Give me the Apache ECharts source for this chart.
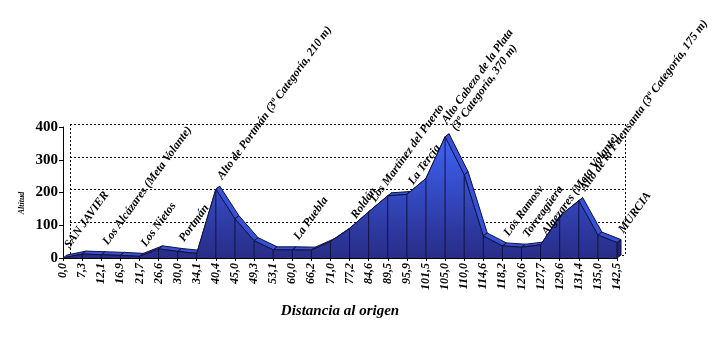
<!DOCTYPE html>
<html>
<head>
<meta charset="utf-8">
<script src="https://cdn.jsdelivr.net/npm/echarts@6/dist/echarts.min.js"></script>
<style>
  html, body { margin: 0; padding: 0; background: #fff; }
  #chart { width: 720px; height: 342px; }
</style>
</head>
<body>
<div id="chart"></div>
<script>
// Stage profile: distance from start (km) and altitude (m)
const distances = ['0,0', '7,3', '12,1', '16,9', '21,7', '26,6', '30,0', '34,1', '40,4', '45,0',
  '49,3', '53,1', '60,0', '66,2', '71,0', '77,2', '84,6', '89,5', '95,9', '101,5',
  '105,0', '110,0', '114,6', '118,2', '120,6', '127,7', '129,6', '131,4', '135,0', '142,5'];
const altitudes = [0, 12, 10, 8, 5, 28, 20, 14, 210, 120,
  53, 25, 25, 24, 50, 90, 141, 190, 194, 243,
  370, 254, 67, 37, 33, 40, 128, 175, 70, 47];
const placeNames = ['SAN JAVIER', '', 'Los Alcázares (Meta Volante)', '', 'Los Nietos', '', 'Portmán', '',
  'Alto de Portmán (3ª Categoría, 210 m)', '', '', '', 'La Puebla', '', '', 'Roldán',
  'Los Martínez del Puerto', '', 'La Tercia', '', 'Alto Cabezo de la Plata\n(3ª Categoría, 370 m)', '', '',
  'Los Ramosv', 'Torreagüera', 'Algezares (Meta Volante)', '', 'Alto de la Fuensanta (3ª Categoría, 175 m)', '', 'MURCIA'];
const altitudeTicks = [0, 100, 200, 300, 400];

const SERIF = '"Liberation Serif", "Times New Roman", serif';
const DEPTH_X = 4, DEPTH_Y = 3;     // ribbon depth
const WALL_X = 7, WALL_Y = 3;       // back wall offset

const chart = echarts.init(document.getElementById('chart'), null, { renderer: 'canvas' });

const gridLeft = 63, gridTop = 127, gridW = 554, gridH = 131;

const ribbonData = altitudes.map((v, i) => [i, v, i < altitudes.length - 1 ? altitudes[i + 1] : v]);
const labelData = placeNames.map((n, i) => [i, altitudes[i], n]).filter(d => d[2] !== '');

chart.setOption({
  animation: false,
  backgroundColor: '#fff',
  grid: [
    { left: gridLeft, top: gridTop, width: gridW, height: gridH },
    { left: gridLeft + WALL_X, top: gridTop - WALL_Y, width: gridW + 1, height: gridH }
  ],
  xAxis: [
    {
      type: 'category', gridIndex: 0, data: distances, boundaryGap: false,
      name: 'Distancia al origen', nameLocation: 'middle', nameGap: 46,
      nameTextStyle: { fontFamily: SERIF, fontStyle: 'italic', fontWeight: 'bold', fontSize: 15, color: '#000' },
      axisLine: { lineStyle: { color: '#000', width: 1 } },
      axisTick: { show: true, length: 3, lineStyle: { color: '#000' } },
      axisLabel: { rotate: 90, margin: 5, fontFamily: SERIF, fontStyle: 'italic', fontWeight: 'bold', fontSize: 12, color: '#000', interval: 0 },
      splitLine: { show: false }
    },
    {
      type: 'value', gridIndex: 1, min: 0, max: 1, interval: 1,
      axisLine: { show: false }, axisTick: { show: false }, axisLabel: { show: false },
      splitLine: { show: true, lineStyle: { color: '#000', type: [2, 2], width: 1 } }
    }
  ],
  yAxis: [
    {
      type: 'value', gridIndex: 0, min: altitudeTicks[0], max: altitudeTicks[altitudeTicks.length - 1], interval: 100,
      axisLine: { show: true, lineStyle: { color: '#000', width: 1 } },
      axisTick: { show: true, length: 4, lineStyle: { color: '#000' } },
      axisLabel: { margin: 5, fontFamily: SERIF, fontWeight: 'bold', fontSize: 15, color: '#000' },
      splitLine: { show: false }
    },
    {
      type: 'value', gridIndex: 1, min: 0, max: 400, interval: 100,
      axisLine: { show: false }, axisTick: { show: false }, axisLabel: { show: false },
      splitLine: { show: true, lineStyle: { color: '#000', type: [2, 2], width: 1 } }
    }
  ],
  graphic: [
    {
      type: 'text', x: 22, y: 203, rotation: Math.PI / 2,
      style: { text: 'Altitud', font: 'italic bold 8px ' + SERIF, fill: '#000', textAlign: 'center', textVerticalAlign: 'middle' }
    }
  ],
  series: [
    {
      // top ribbon giving the profile its depth
      type: 'custom', xAxisIndex: 0, yAxisIndex: 0, z: 1, clip: false,
      data: ribbonData,
      renderItem(params, api) {
        const i = api.value(0);
        const last = altitudes.length - 1;
        if (i === last) {
          const top = api.coord([i, api.value(1)]);
          const bot = api.coord([i, 0]);
          return {
            type: 'polygon',
            shape: { points: [top, bot, [bot[0] + DEPTH_X, bot[1] - DEPTH_Y], [top[0] + DEPTH_X, top[1] - DEPTH_Y]] },
            style: { fill: '#1f2478', stroke: '#10103a', lineWidth: 1 }
          };
        }
        const a = api.coord([i, api.value(1)]);
        const b = api.coord([i + 1, api.value(2)]);
        return {
          type: 'polygon',
          shape: { points: [a, b, [b[0] + DEPTH_X, b[1] - DEPTH_Y], [a[0] + DEPTH_X, a[1] - DEPTH_Y]] },
          style: { fill: '#3552d8', stroke: '#111140', lineWidth: 1 }
        };
      }
    },
    {
      type: 'line', xAxisIndex: 0, yAxisIndex: 0, z: 3,
      data: altitudes, symbol: 'none',
      lineStyle: { color: '#12123a', width: 1 },
      areaStyle: {
        opacity: 1,
        color: new echarts.graphic.LinearGradient(0, gridTop, 0, gridTop + gridH, [
          { offset: 0, color: '#4068ff' },
          { offset: 1, color: '#282c86' }
        ], true)
      }
    },
    {
      // vertical drop lines at each distance
      type: 'custom', xAxisIndex: 0, yAxisIndex: 0, z: 4,
      data: altitudes.map((v, i) => [i, v]),
      renderItem(params, api) {
        const p = api.coord([api.value(0), api.value(1)]);
        const q = api.coord([api.value(0), 0]);
        return { type: 'line', shape: { x1: p[0], y1: p[1], x2: q[0], y2: q[1] }, style: { stroke: '#12123a', lineWidth: 1 } };
      }
    },
    {
      // place names along the profile
      type: 'custom', xAxisIndex: 0, yAxisIndex: 0, z: 5, clip: false,
      data: labelData,
      renderItem(params, api) {
        const d = labelData[params.dataIndex];
        const p = api.coord([d[0], d[1]]);
        return {
          type: 'text', x: p[0] + 4, y: p[1] - 11, rotation: 54 * Math.PI / 180,
          style: { text: d[2], font: 'italic bold 11.8px ' + SERIF, fill: '#000', textAlign: 'left', textVerticalAlign: 'middle', lineHeight: 12 }
        };
      }
    }
  ]
});
</script>
</body>
</html>
